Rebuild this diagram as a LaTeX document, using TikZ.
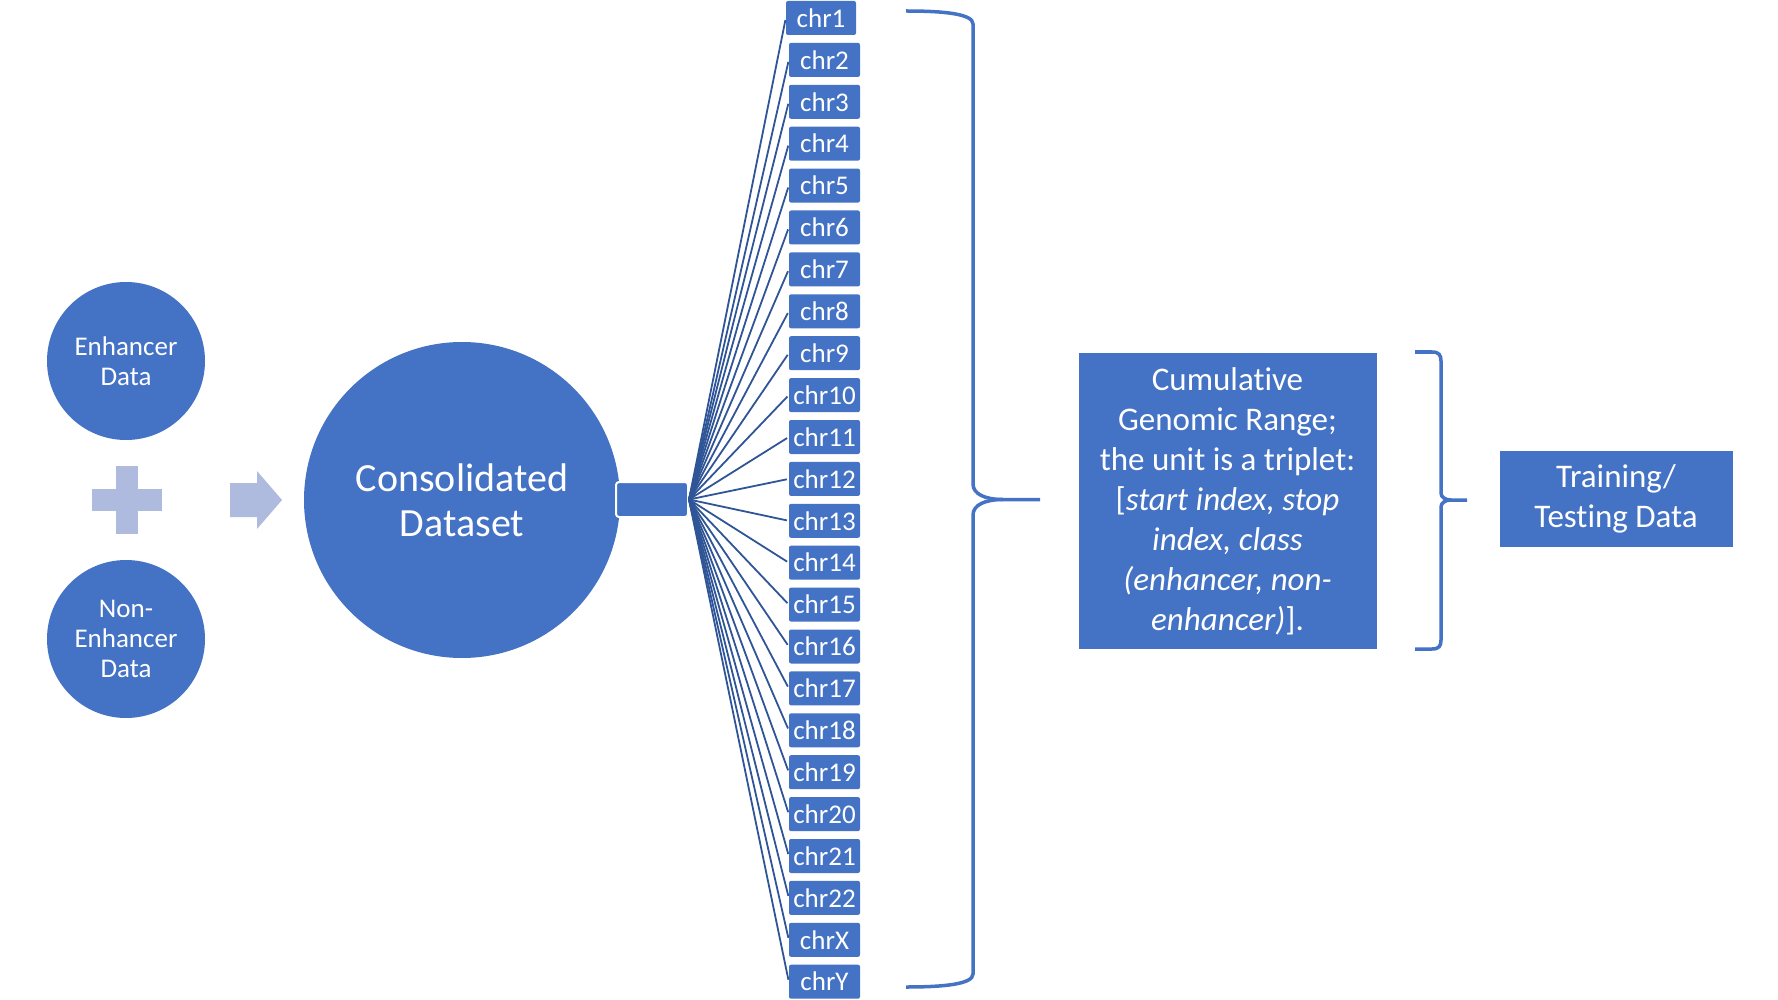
\documentclass[tikz,border=0pt]{standalone}
\usepackage{fontspec}
\setmainfont{Carlito}[Ligatures=CommonOff]
\definecolor{obl}{HTML}{4472C4}
\definecolor{lbl}{RGB}{174,187,222}
\definecolor{dbl}{HTML}{2F5597}
\begin{document}
\begin{tikzpicture}[x=1pt,y=-1pt,
  circ/.style={circle, fill=obl, text=white, align=center, inner sep=0pt},
  chrbox/.style={fill=obl, text=white, rounded corners=2pt, minimum width=71pt, minimum height=34pt, inner sep=0pt, font=\fontsize{27}{30}\selectfont},
  fan/.style={draw=dbl, line width=1.8pt, shorten >=2pt},
  bracel/.style={draw=obl, line width=3.5pt},
  bluebox/.style={fill=obl, text=white, align=center, inner sep=0pt, font=\fontsize{33}{40}\selectfont}]
\useasboundingbox (0,0) rectangle (1778,1000);

% input circles
\node[circ, minimum size=158pt, font=\fontsize{27}{30}\selectfont] (enh) at (126,361) {Enhancer\\Data};
\node[circ, minimum size=158pt, font=\fontsize{27}{30}\selectfont] (nonenh) at (126,639) {Non-\\Enhancer\\Data};

% plus sign
\fill[lbl] (116,466) rectangle (137.5,534);
\fill[lbl] (92,489) rectangle (162,511);

% arrow
\fill[lbl] (230,483) -- (257,483) -- (257,471) -- (282,500) -- (257,529) -- (257,517) -- (230,517) -- cycle;

% consolidated
\node[circ, minimum size=316pt, font=\fontsize{40}{45}\selectfont] (cons) at (462,500) {Consolidated\\Dataset};
\node[fill=obl, draw=white, line width=2pt, rounded corners=3pt, minimum width=72pt, minimum height=35pt, inner sep=0pt] (hub) at (652,499.5) {};

% chromosome boxes
\foreach \i/\lab in {1/chr1,2/chr2,3/chr3,4/chr4,5/chr5,6/chr6,7/chr7,8/chr8,9/chr9,10/chr10,11/chr11,12/chr12,13/chr13,14/chr14,15/chr15,16/chr16,17/chr17,18/chr18,19/chr19,20/chr20,21/chr21,22/chr22,23/chrX,24/chrY}{
  \pgfmathsetmacro{\yy}{18+41.9*(\i-1)}
  \ifnum\i=1
    \node[chrbox, minimum width=70pt] (c\i) at (821,\yy) {\lab};
  \else
    \node[chrbox] (c\i) at (824.5,\yy) {\lab};
  \fi
  \draw[fan] (hub.east) -- (c\i.west);
}

% big brace
\draw[bracel] (906,11) .. controls (945,11) and (973,14) .. (973,24) -- (973,484)
  .. controls (973,494) and (985,499.5) .. (1003,499.5) -- (1040,499.5);
\draw[bracel] (906,987) .. controls (945,987) and (973,984) .. (973,974) -- (973,515)
  .. controls (973,505) and (985,499.5) .. (1003,499.5);

% cumulative box
\node[bluebox, minimum width=298pt, minimum height=296pt] (cum) at (1227.5,501)
  {Cumulative\\Genomic Range;\\the unit is a triplet:\\{[}\textit{start index, stop}\\\textit{index, class}\\\textit{(enhancer, non-}\\\textit{enhancer)}].};

% small brace
\draw[bracel] (1415,352) -- (1432,352) .. controls (1439,352) and (1441,355) .. (1441,361) -- (1441,493)
  .. controls (1441,497) and (1445,500) .. (1451,500) -- (1467,500);
\draw[bracel] (1415,649) -- (1432,649) .. controls (1439,649) and (1441,646) .. (1441,640) -- (1441,507)
  .. controls (1441,503) and (1445,500) .. (1451,500);

% training box
\node[bluebox, minimum width=233pt, minimum height=96pt] (tt) at (1616,499) {Training/\\Testing Data};
\end{tikzpicture}
\end{document}
